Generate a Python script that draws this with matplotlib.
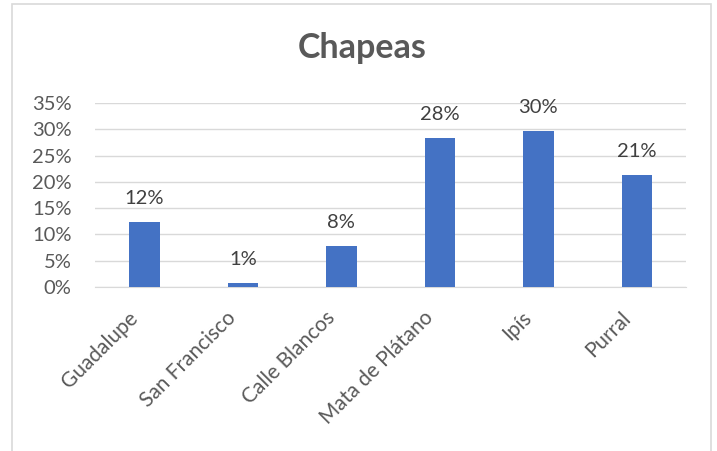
import matplotlib
matplotlib.use("Agg")
import matplotlib.pyplot as plt
import matplotlib.transforms as mtransforms
from matplotlib.patches import Rectangle

barrios  = ["Guadalupe", "San Francisco", "Calle Blancos", "Mata de Plátano", "Ipís", "Purral"]
valores  = [0.124, 0.008, 0.078, 0.283, 0.297, 0.213]
etiquetas = ["12%", "1%", "8%", "28%", "30%", "21%"]
yticks   = [0, 0.05, 0.10, 0.15, 0.20, 0.25, 0.30, 0.35]
ylabels  = ["0%", "5%", "10%", "15%", "20%", "25%", "30%", "35%"]

plt.rcParams['font.family'] = ['Lato', 'DejaVu Sans']

fig = plt.figure(figsize=(7.17, 4.51), dpi=100)
ax = fig.add_axes([0.1325, 0.3636, 0.957 - 0.1325, 0.7716 - 0.3636])

x = range(len(barrios))
ax.bar(x, valores, width=0.31, color="#4472C4", zorder=3)

for i, v in enumerate(valores):
	ax.annotate(etiquetas[i], (i, v), xytext=(0, 13), textcoords="offset points",
		ha="center", va="baseline", fontsize=14.5, color="#404040")

ax.set_xlim(-0.5, len(barrios) - 0.5)
ax.set_ylim(0, 0.35)
ax.set_yticks(yticks)
ax.set_yticklabels(ylabels, fontsize=14.5, color="#595959")
ax.set_xticks(list(x))
ax.set_xticklabels(barrios, fontsize=15, color="#595959", rotation=45,
	ha="right", va="top", rotation_mode="anchor")
ax.tick_params(axis="y", length=0, pad=17)
ax.tick_params(axis="x", length=0, pad=15)
# shift rotated labels a little to the left, like Excel does
shift = mtransforms.ScaledTranslation(-12 / 72, 0, fig.dpi_scale_trans)
for lbl in ax.get_xticklabels():
	lbl.set_transform(lbl.get_transform() + shift)
ax.grid(axis="y", color="#D9D9D9", linewidth=1, zorder=0)
for s in ["top", "right", "left"]:
	ax.spines[s].set_visible(False)
ax.spines["bottom"].set_color("#D9D9D9")

fig.text(0.505, 1 - 58 / 451, "Chapeas", ha="center", va="baseline", fontsize=24.5,
	fontweight="bold", color="#595959")

# chart frame
fig.patches.append(Rectangle((12 / 717, -0.05), (711 - 12) / 717, 1 - 4 / 451 + 0.05,
	transform=fig.transFigure, fill=False, edgecolor="#D9D9D9", linewidth=1.2))

fig.savefig("out.png", dpi=100)
